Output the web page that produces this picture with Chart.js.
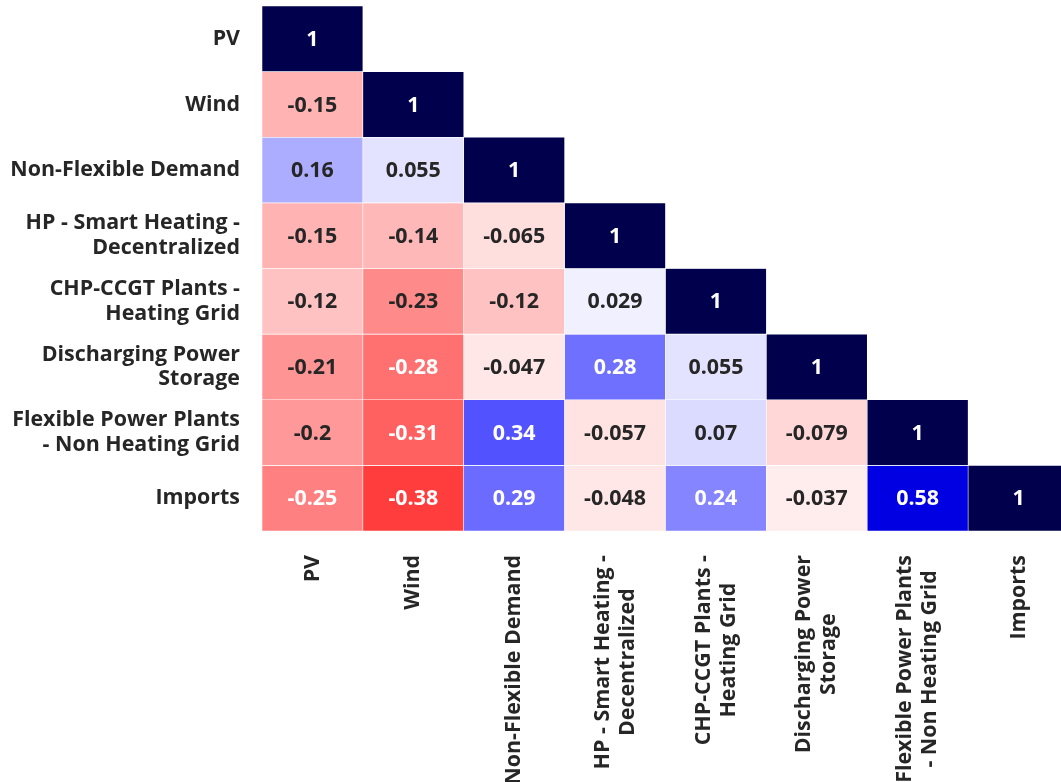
<!DOCTYPE html>
<html>
<head>
<meta charset="utf-8">
<script src="https://cdn.jsdelivr.net/npm/chart.js@4.4.1/dist/chart.umd.min.js"></script>
<style>
  html, body { margin: 0; padding: 0; background: #ffffff; overflow: hidden; }
  #wrap { width: 1061px; height: 782px; overflow: hidden; }
  canvas { display: block; }
</style>
</head>
<body>
<div id="wrap"><canvas id="heat" width="1070" height="782" style="width:1070px;height:782px"></canvas></div>
<script>
// Variable names, shown on both axes (multi-line where wrapped)
const rowLabels = [
  ["PV"],
  ["Wind"],
  ["Non-Flexible Demand"],
  ["HP - Smart Heating -", "Decentralized"],
  ["CHP-CCGT Plants -", "Heating Grid"],
  ["Discharging Power", "Storage"],
  ["Flexible Power Plants", "- Non Heating Grid"],
  ["Imports"]
];
const colLabels = rowLabels;

// Lower triangle of the correlation matrix, one array per row
const rowPV         = [1];
const rowWind       = [-0.15, 1];
const rowNonFlex    = [0.16, 0.055, 1];
const rowHP         = [-0.15, -0.14, -0.065, 1];
const rowCHP        = [-0.12, -0.23, -0.12, 0.029, 1];
const rowDischarge  = [-0.21, -0.28, -0.047, 0.28, 0.055, 1];
const rowFlexible   = [-0.2, -0.31, 0.34, -0.057, 0.07, -0.079, 1];
const rowImports    = [-0.25, -0.38, 0.29, -0.048, 0.24, -0.037, 0.58, 1];
const matrixRows = [rowPV, rowWind, rowNonFlex, rowHP, rowCHP, rowDischarge, rowFlexible, rowImports];

const FONT = "'Open Sans', 'DejaVu Sans', sans-serif";
const FONT_SIZE = 21.4;
const TEXT_DARK = '#262626';

// Reversed "seismic" diverging map on [-1, 1]: +1 navy, 0 white, -1 dark red
function seismicR(v) {
  const t = 1 - (v + 1) / 2;
  let r, g, b;
  if (t <= 0.25) {
    const f = t / 0.25;
    r = 0; g = 0; b = 0.3 + 0.7 * f;
  } else if (t <= 0.5) {
    const f = (t - 0.25) / 0.25;
    r = f; g = f; b = 1;
  } else if (t <= 0.75) {
    const f = (t - 0.5) / 0.25;
    r = 1; g = 1 - f; b = 1 - f;
  } else {
    const f = (t - 0.75) / 0.25;
    r = 1 - 0.5 * f; g = 0; b = 0;
  }
  return [r, g, b];
}
function rgbCss(c) {
  return 'rgb(' + c.map(x => Math.round(x * 255)).join(',') + ')';
}
function luminance(c) {
  const lin = c.map(x => x <= 0.03928 ? x / 12.92 : Math.pow((x + 0.055) / 1.055, 2.4));
  return 0.2126 * lin[0] + 0.7152 * lin[1] + 0.0722 * lin[2];
}

// One floating-bar dataset per row; each cell spans [row, row + 1]
const datasets = matrixRows.map((vals, r) => ({
  label: rowLabels[r].join(' '),
  data: colLabels.map((_, c) => (c < vals.length ? [r, r + 1] : null)),
  corr: colLabels.map((_, c) => (c < vals.length ? vals[c] : null)),
  backgroundColor: colLabels.map((_, c) => (c < vals.length ? rgbCss(seismicR(vals[c])) : 'rgba(0,0,0,0)')),
  borderColor: '#ffffff',
  borderWidth: 0.6,
  borderSkipped: false,
  grouped: false,
  barPercentage: 1,
  categoryPercentage: 1
}));

// Cell annotations
const annotate = {
  id: 'annotate',
  afterDatasetsDraw(chart) {
    const ctx = chart.ctx;
    ctx.save();
    ctx.font = 'bold ' + FONT_SIZE + 'px ' + FONT;
    ctx.textAlign = 'center';
    ctx.textBaseline = 'middle';
    chart.data.datasets.forEach((ds, i) => {
      const meta = chart.getDatasetMeta(i);
      meta.data.forEach((el, j) => {
        const v = ds.corr[j];
        if (v === null || v === undefined) return;
        const cy = (el.y + el.base) / 2;
        ctx.fillStyle = luminance(seismicR(v)) <= 0.408 ? '#ffffff' : TEXT_DARK;
        ctx.fillText(String(v), el.x, cy + 1);
      });
    });
    ctx.restore();
  }
};

// Vertical column labels, block anchored just under the grid
const columnLabels = {
  id: 'columnLabels',
  afterDraw(chart) {
    const ctx = chart.ctx;
    const xs = chart.scales.x;
    const top = chart.chartArea.bottom + 24;
    const lh = 25;
    ctx.save();
    ctx.font = 'bold ' + FONT_SIZE + 'px ' + FONT;
    ctx.fillStyle = TEXT_DARK;
    ctx.textAlign = 'center';
    ctx.textBaseline = 'middle';
    colLabels.forEach((lines, i) => {
      const x = xs.getPixelForTick(i);
      const w = Math.max(...lines.map(s => ctx.measureText(s).width));
      lines.forEach((s, k) => {
        const off = (k - (lines.length - 1) / 2) * lh;
        ctx.save();
        ctx.translate(x + off, top + w / 2);
        ctx.rotate(-Math.PI / 2);
        ctx.fillText(s, 0, 0);
        ctx.restore();
      });
    });
    ctx.restore();
  }
};

new Chart(document.getElementById('heat'), {
  type: 'bar',
  data: {
    labels: colLabels.map(l => l.join(' ')),
    datasets: datasets
  },
  plugins: [annotate, columnLabels],
  options: {
    responsive: false,
    animation: false,
    layout: { padding: { top: 6, right: 1, bottom: 0, left: 0 } },
    plugins: {
      legend: { display: false },
      tooltip: { enabled: false }
    },
    scales: {
      x: {
        type: 'category',
        offset: true,
        grid: { display: false, drawTicks: false },
        border: { display: false },
        ticks: { display: false },
        afterFit(scale) {
          scale.height = 251;
          scale.paddingLeft = 0;
          scale.paddingRight = 0;
        }
      },
      y: {
        type: 'linear',
        reverse: true,
        min: 0,
        max: 8,
        grid: { display: false, drawTicks: false },
        border: { display: false },
        afterBuildTicks(scale) {
          scale.ticks = rowLabels.map((_, i) => ({ value: i + 0.5 }));
        },
        ticks: {
          autoSkip: false,
          padding: 22,
          color: TEXT_DARK,
          font: { family: FONT, size: FONT_SIZE, weight: 'bold', lineHeight: 1.15 },
          callback(value, index) { return rowLabels[index]; }
        },
        afterFit(scale) {
          scale.width = 262;
          scale.paddingTop = 0;
          scale.paddingBottom = 0;
        }
      }
    }
  }
});
</script>
</body>
</html>
